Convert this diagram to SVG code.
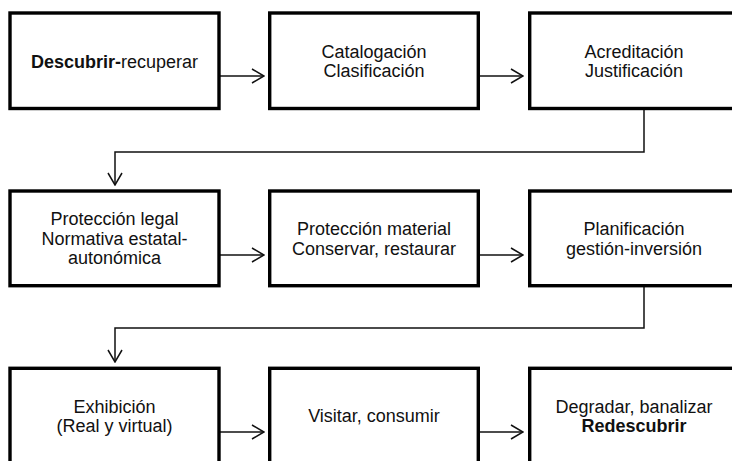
<svg xmlns="http://www.w3.org/2000/svg" width="732" height="461" viewBox="0 0 732 461">
<style>
.box{fill:#fff;stroke:#000;stroke-width:3.4}
.t{font-family:"Liberation Sans",Arial,sans-serif;font-size:18px;fill:#111;text-anchor:middle}
.b{font-weight:bold}
.c{fill:none;stroke:#111;stroke-width:1.5}
</style>
<defs>
<marker id="ah" viewBox="0 0 14 16" refX="13" refY="8" markerWidth="14" markerHeight="16" markerUnits="userSpaceOnUse" orient="auto">
<path d="M1,1 L13,8 L1,15" fill="none" stroke="#111" stroke-width="1.5"/>
</marker>
</defs>
<rect width="732" height="461" fill="#fff"/>
<g id="connectors">
<path class="c" d="M220,76 H264" marker-end="url(#ah)"/>
<path class="c" d="M480,76 H523" marker-end="url(#ah)"/>
<path class="c" d="M644,110 V152 H115 V185" marker-end="url(#ah)"/>
<path class="c" d="M220,255 H264" marker-end="url(#ah)"/>
<path class="c" d="M480,255 H523" marker-end="url(#ah)"/>
<path class="c" d="M644,287 V328 H115 V362" marker-end="url(#ah)"/>
<path class="c" d="M220,432 H264" marker-end="url(#ah)"/>
<path class="c" d="M480,432 H523" marker-end="url(#ah)"/>
</g>
<g id="n1">
<rect class="box" x="10" y="13" width="209" height="95.5"/>
<text class="t" x="114.5" y="67.5"><tspan class="b">Descubrir-</tspan>recuperar</text>
</g>
<g id="n2">
<rect class="box" x="269.7" y="13" width="208.6" height="95.5"/>
<text class="t" x="374" y="57.5">Catalogación</text>
<text class="t" x="374" y="77">Clasificación</text>
</g>
<g id="n3">
<rect class="box" x="529.7" y="13" width="209" height="95.5"/>
<text class="t" x="634" y="57.5">Acreditación</text>
<text class="t" x="634" y="77">Justificación</text>
</g>
<g id="n4">
<rect class="box" x="10" y="191" width="209" height="94.7"/>
<text class="t" x="114.5" y="225.3">Protección legal</text>
<text class="t" x="114.5" y="244.8">Normativa estatal-</text>
<text class="t" x="114.5" y="264.3">autonómica</text>
</g>
<g id="n5">
<rect class="box" x="269.7" y="191" width="208.6" height="94.7"/>
<text class="t" x="374" y="235">Protección material</text>
<text class="t" x="374" y="254.5">Conservar, restaurar</text>
</g>
<g id="n6">
<rect class="box" x="529.7" y="191" width="209" height="94.7"/>
<text class="t" x="634" y="235">Planificación</text>
<text class="t" x="634" y="254.5">gestión-inversión</text>
</g>
<g id="n7">
<rect class="box" x="10" y="368.3" width="209" height="95"/>
<text class="t" x="114.5" y="412.6">Exhibición</text>
<text class="t" x="114.5" y="432">(Real y virtual)</text>
</g>
<g id="n8">
<rect class="box" x="269.7" y="368.3" width="208.6" height="95"/>
<text class="t" x="374" y="422.3">Visitar, consumir</text>
</g>
<g id="n9">
<rect class="box" x="529.7" y="368.3" width="209" height="95"/>
<text class="t" x="634" y="412.6">Degradar, banalizar</text>
<text class="t b" x="634" y="432">Redescubrir</text>
</g>
</svg>
